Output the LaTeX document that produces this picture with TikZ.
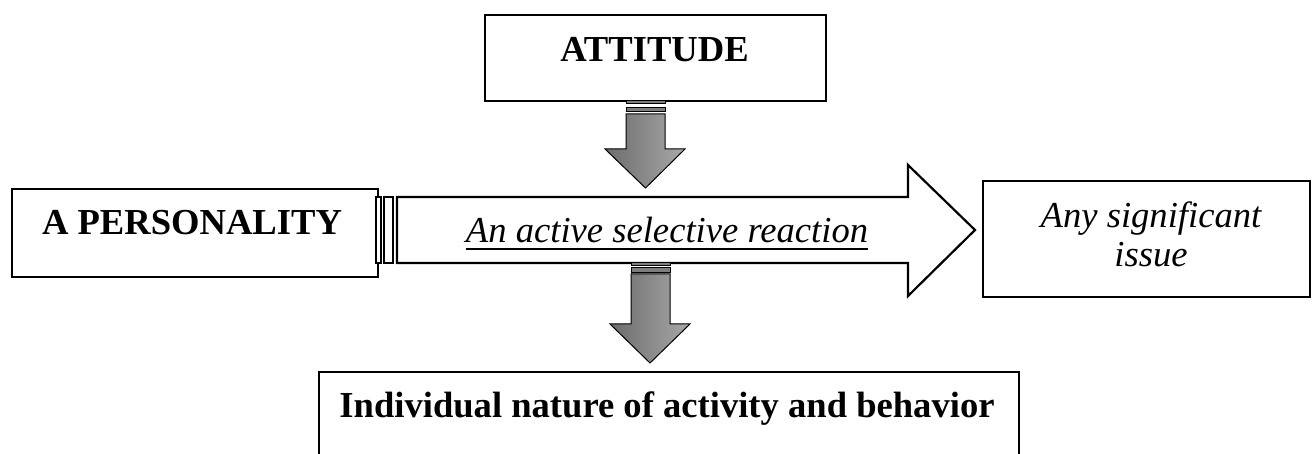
\documentclass[tikz,border=0pt]{standalone}
\usepackage{fontspec}
\setmainfont{Liberation Serif}
\usetikzlibrary{calc}
\definecolor{arrowdark}{HTML}{6C6C6C}
\definecolor{arrowlight}{HTML}{A8A8A8}
\begin{document}
\begin{tikzpicture}[x=0.5pt,y=-0.5pt,
  box/.style={draw=black,line width=1.1pt,fill=white,inner sep=0pt,anchor=north west},
  bigtxt/.style={inner sep=0pt,font=\fontsize{18.3}{19.5}\selectfont},
  boldtxt/.style={bigtxt,font=\fontsize{18.3}{19.5}\selectfont\bfseries},
  ittxt/.style={bigtxt,font=\fontsize{18.3}{19.5}\selectfont\itshape},
  grayarrow/.style={draw=black,line width=0.5pt,shading=axis,left color=arrowdark,right color=arrowlight,shading angle=90},
  graystripe/.style={draw=black,line width=0.4pt,fill=arrowdark!70!arrowlight},
  whitearrow/.style={draw=black,line width=1.1pt,fill=white,line join=miter},
  whitestripe/.style={draw=black,line width=0.8pt,fill=white}]
\useasboundingbox (0,0) rectangle (1312,454);

% boxes
\node[box,minimum width=170.5pt,minimum height=43pt] (att) at (484,14) {};
\node[box,minimum width=183pt,minimum height=44pt] (pers) at (11,188) {};
\node[box,minimum width=163.5pt,minimum height=58pt] (issue) at (982,180) {};
\node[box,minimum width=350pt,minimum height=60pt] (beh) at (318,371) {};

% box texts
\node[boldtxt,anchor=base] (attT) at (654.5,62) {ATTITUDE};
\node[boldtxt,anchor=base] (persT) at (192,235) {A PERSONALITY};
\node[ittxt,anchor=base] (issueT1) at (1151,228) {Any significant};
\node[ittxt,anchor=base] (issueT2) at (1151,267) {issue};
\node[boldtxt,anchor=base] (behT) at (667,417) {Individual nature of activity and behavior};

% horizontal block arrow from the personality box to the issue box
\coordinate (hstart) at (376,230);
\coordinate (htip) at (975,230);
\draw[whitestripe] (376,197) rectangle (381,263);
\draw[whitestripe] (384,197) rectangle (393,263);
\draw[whitearrow] (397,197) -- (908,197) -- (908,165) -- (htip) -- (908,296)
  -- (908,263) -- (397,263) -- cycle;
\node[ittxt,anchor=base] (react) at (667,243) {An active selective reaction};
\draw[line width=1pt] ($(react.base west)+(0,6)$) -- ($(react.base east)+(0,6)$);

% block arrow from the attitude box down onto the reaction arrow
\coordinate (d1tip) at (645.5,188);
\draw[graystripe] (626,100) rectangle (665,103);
\draw[graystripe] (626,107) rectangle (665,111);
\draw[grayarrow] (626,114) -- (626,149) -- (605,149) -- (d1tip) -- (685,149)
  -- (665,149) -- (665,114) -- cycle;

% block arrow from the reaction arrow down to the behaviour box
\coordinate (d2tip) at (650,363);
\draw[graystripe] (631,262) rectangle (670,265);
\draw[graystripe] (631,267) rectangle (670,272);
\draw[grayarrow] (631,274) -- (631,324) -- (610,324) -- (d2tip) -- (690,324)
  -- (670,324) -- (670,274) -- cycle;
\end{tikzpicture}
\end{document}
